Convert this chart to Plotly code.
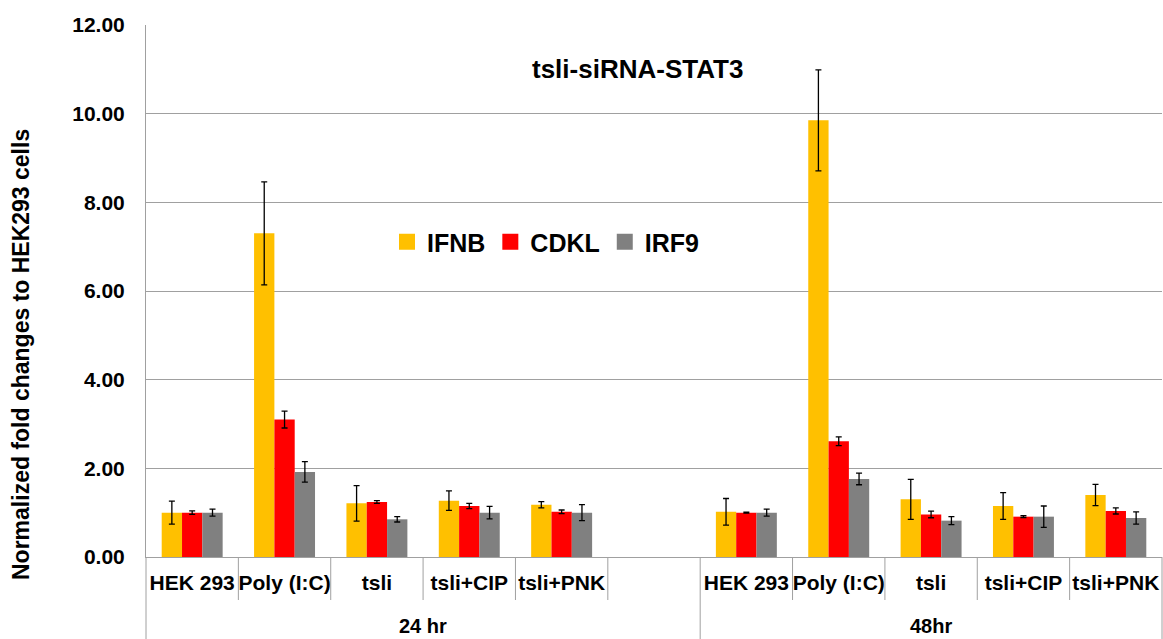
import plotly.graph_objects as go

# ---- data ----
conditions = ["HEK 293", "Poly (I:C)", "tsli", "tsli+CIP", "tsli+PNK"]
timepoints = ["24 hr", "48hr"]
series_names = ["IFNB", "CDKL", "IRF9"]

IFNB_24 = [1.00, 7.30, 1.21, 1.27, 1.18]
IFNB_24_err = [0.26, 1.16, 0.40, 0.22, 0.07]
CDKL_24 = [1.00, 3.10, 1.24, 1.15, 1.02]
CDKL_24_err = [0.04, 0.19, 0.03, 0.06, 0.04]
IRF9_24 = [1.00, 1.92, 0.85, 1.00, 1.00]
IRF9_24_err = [0.08, 0.23, 0.06, 0.14, 0.18]

IFNB_48 = [1.02, 9.85, 1.30, 1.15, 1.40]
IFNB_48_err = [0.30, 1.14, 0.45, 0.30, 0.24]
CDKL_48 = [1.00, 2.61, 0.96, 0.91, 1.04]
CDKL_48_err = [0.01, 0.10, 0.075, 0.02, 0.07]
IRF9_48 = [1.00, 1.76, 0.82, 0.91, 0.88]
IRF9_48_err = [0.08, 0.13, 0.09, 0.24, 0.14]

colors = {"IFNB": "#FFC000", "CDKL": "#FF0000", "IRF9": "#808080"}

# category slots: 24 hr group has 5 conditions + 1 empty slot, 48hr has 5
slots_24 = list(range(len(conditions)))
n_slots_24 = len(conditions) + 1
slots_48 = [n_slots_24 + i for i in range(len(conditions))]
n_total = n_slots_24 + len(conditions)
xs = slots_24 + slots_48

values = {
    "IFNB": (IFNB_24 + IFNB_48, IFNB_24_err + IFNB_48_err),
    "CDKL": (CDKL_24 + CDKL_48, CDKL_24_err + CDKL_48_err),
    "IRF9": (IRF9_24 + IRF9_48, IRF9_24_err + IRF9_48_err),
}

FONT = "Liberation Sans, Arial, sans-serif"

fig = go.Figure()
for name in series_names:
    vals, errs = values[name]
    fig.add_trace(go.Bar(
        x=xs, y=vals, name=name, showlegend=False,
        marker=dict(color=colors[name], line=dict(width=0)),
        error_y=dict(type="data", array=errs, visible=True,
                     color="black", thickness=1.3, width=3),
    ))
# legend entries (square swatches)
for name in series_names:
    fig.add_trace(go.Scatter(
        x=[None], y=[None], mode="markers", name=name,
        marker=dict(symbol="square", size=16, color=colors[name]),
    ))

# plot geometry
W, H = 1163, 639
ml, mr, mt, mb = 146, 1, 25, 82
pw = W - ml - mr
ph = H - mt - mb

def px_to_paper_x(px):
    return (px - ml) / pw

def px_to_paper_y(py):
    return (H - mb - py) / ph

shapes = []
grid_col = "#A0A0A0"
# category boundary dividers below the axis
for b in range(n_total + 1):
    xp = b / n_total
    full = b in (0, n_slots_24, n_total)
    y1 = -(mb + 5) / ph if full else -43 / ph
    shapes.append(dict(type="line", xref="paper", yref="paper",
                       x0=xp, x1=xp, y0=0, y1=y1,
                       line=dict(color=grid_col, width=1)))

annotations = [
    dict(text="tsli-siRNA-STAT3", xref="paper", yref="paper",
         x=px_to_paper_x(637), y=px_to_paper_y(69),
         xanchor="center", yanchor="middle", showarrow=False,
         font=dict(size=26, color="black", family=FONT, weight="bold")),
    dict(text="Normalized fold changes to HEK293 cells", xref="paper", yref="paper",
         x=px_to_paper_x(21), y=px_to_paper_y(355), textangle=-90,
         xanchor="center", yanchor="middle", showarrow=False,
         font=dict(size=23, color="black", family=FONT, weight="bold")),
]
# group labels
group_spans = [(0, n_slots_24), (n_slots_24, n_total)]
for tp, (a, b) in zip(timepoints, group_spans):
    annotations.append(dict(
        text=tp, xref="paper", yref="paper",
        x=((a + b) / 2) / n_total, y=px_to_paper_y(626),
        xanchor="center", yanchor="middle", showarrow=False,
        font=dict(size=20, color="black", family=FONT, weight="bold")))

fig.update_layout(
    width=W, height=H,
    margin=dict(l=ml, r=mr, t=mt, b=mb, pad=0),
    paper_bgcolor="white", plot_bgcolor="white",
    font=dict(family=FONT, color="black", weight="bold"),
    barmode="group", bargap=0.34, bargroupgap=0,
    showlegend=True,
    legend=dict(orientation="h", x=px_to_paper_x(387), y=px_to_paper_y(242),
                xanchor="left", yanchor="middle",
                font=dict(size=25, family=FONT, weight="bold"),
                bgcolor="rgba(0,0,0,0)", itemwidth=30),
    xaxis=dict(range=[-0.5, n_total - 0.5], tickmode="array",
               tickvals=xs, ticktext=conditions + conditions,
               ticks="", showgrid=False, zeroline=False,
               showline=True, linecolor=grid_col, linewidth=1,
               tickfont=dict(size=21, family=FONT, weight="bold"),
               ticklabelstandoff=7, fixedrange=True),
    yaxis=dict(range=[0, 12], dtick=2, tickformat=".2f",
               showgrid=True, gridcolor=grid_col, gridwidth=1,
               zeroline=False, showline=True, linecolor=grid_col, linewidth=1,
               ticks="", tickfont=dict(size=21, family=FONT, weight="bold"),
               ticklabelstandoff=16),
    shapes=shapes, annotations=annotations,
)

fig.write_html("out.html", config={"displayModeBar": False},
               post_script="document.body.style.margin='0';document.body.style.overflow='hidden';")
